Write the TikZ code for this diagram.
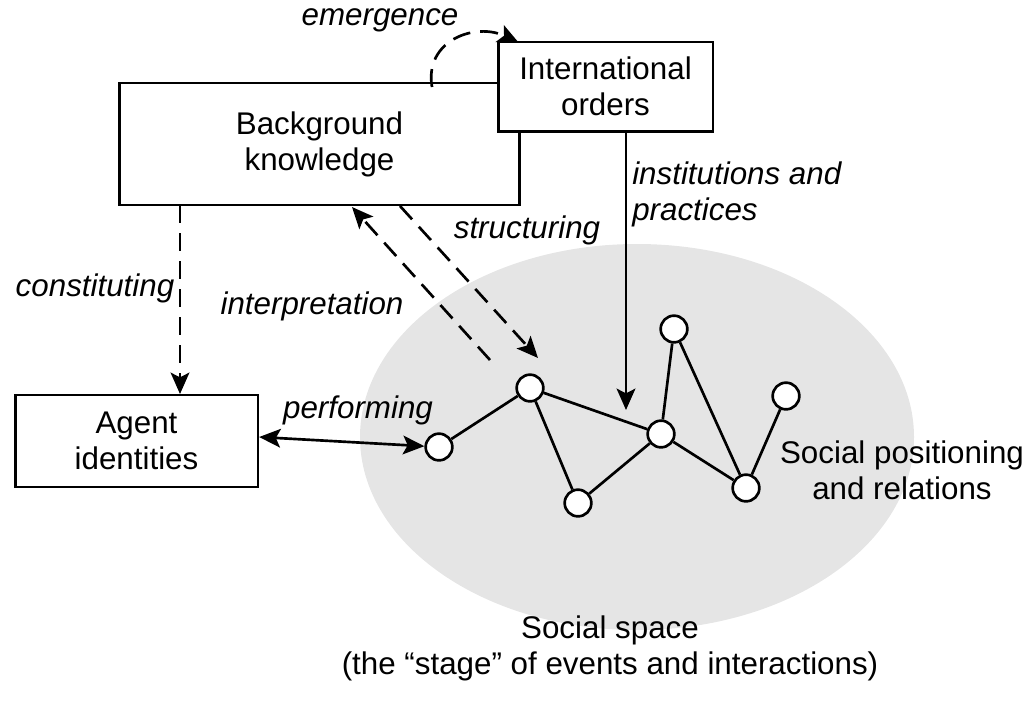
\documentclass[tikz,border=0pt]{standalone}
\usepackage{fontspec}
\setmainfont{Liberation Sans}
\usetikzlibrary{arrows.meta}
\begin{document}
\begin{tikzpicture}[x=0.75pt,y=-0.75pt,
  every node/.style={font=\fontsize{23.5}{27}\selectfont},
  box/.style={draw,line width=2pt,fill=white,inner sep=0pt,align=center},
  lbl/.style={font=\fontsize{23.5}{27}\selectfont\itshape,inner sep=0pt,align=left},
  dsh/.style={line width=2pt,dash pattern=on 13.5pt off 7.5pt},
  arr/.style={-{Stealth[length=16pt,width=14pt,inset=3.5pt]}},
  dblarr/.style={{Stealth[length=16pt,width=14pt,inset=3.5pt]}-{Stealth[length=16pt,width=14pt,inset=3.5pt]}},
  dot/.style={circle,draw,line width=2pt,fill=white,minimum size=20pt,inner sep=0pt},
  edge/.style={line width=2pt}]
\useasboundingbox (0,0) rectangle (1030,704);
% social space
\fill[gray!20] (637,437) ellipse [x radius=277, y radius=193];
% boxes
\node[box,minimum width=300pt,minimum height=91.5pt] (bk) at (319.5,144) {Background\\knowledge};
\node[box,minimum width=161pt,minimum height=67pt] (io) at (605.5,86.5) {International\\orders};
\node[box,minimum width=182pt,minimum height=69pt] (ai) at (136.5,441) {Agent\\identities};
% network nodes
\node[dot] (n1) at (439,447) {};
\node[dot] (n2) at (530,388) {};
\node[dot] (n3) at (578,503) {};
\node[dot] (n4) at (661,434) {};
\node[dot] (n5) at (674,329) {};
\node[dot] (n6) at (746,488) {};
\node[dot] (n7) at (786,396) {};
\draw[edge] (n1) -- (n2);
\draw[edge] (n2) -- (n3);
\draw[edge] (n2) -- (n4);
\draw[edge] (n3) -- (n4);
\draw[edge] (n4) -- (n5);
\draw[edge] (n5) -- (n6);
\draw[edge] (n4) -- (n6);
\draw[edge] (n6) -- (n7);
% coordinates for connectors
\coordinate (cA) at (180,205);
\coordinate (cB) at (180,394);
\coordinate (iA) at (490,360);
\coordinate (iB) at (352,207);
\coordinate (sA) at (400,206);
\coordinate (sB) at (538,358);
\coordinate (eA) at (432,87);
\coordinate (eB) at (519,43);
\coordinate (pA) at (626,131);
\coordinate (pB) at (626,410);
% connectors
\draw[dsh,arr] (cA) -- (cB);
\draw[dsh,arr] (iA) -- (iB);
\draw[dsh,arr] (sA) -- (sB);
\draw[dsh,arr] (eA) .. controls (424,40) and (476,22) .. (eB);
\draw[edge,arr] (pA) -- (pB);
\draw[edge,dblarr] (ai.east |- 0,437) -- (n1);
% labels
\node[lbl] (l1) at (380,20) {emergence};
\node[lbl] (l2) at (95,288) {constituting};
\node[lbl] (l3) at (312,306) {interpretation};
\node[lbl] (l4) at (527,230) {structuring};
\node[lbl,anchor=west] (l5) at (632,194) {institutions and\\practices};
\node[lbl] (l6) at (358,410) {performing};
\node[inner sep=0pt,align=center] (t1) at (902,470) {Social positioning\\and relations};
\node[inner sep=0pt,align=center] (t2) at (610,648) {Social space\\(the “stage” of events and interactions)};
\end{tikzpicture}
\end{document}
